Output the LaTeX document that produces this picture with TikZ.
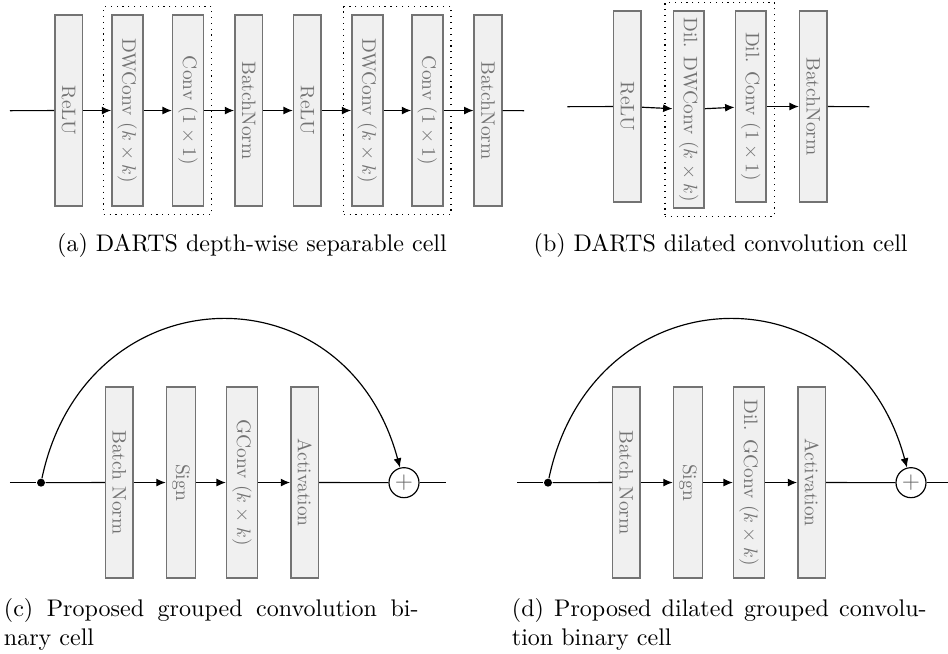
\documentclass[tikz,border=0pt]{standalone}
\usepackage{graphicx}
\usetikzlibrary{arrows.meta,fit}

\newcommand{\opname}[1]{\scalebox{.83}{#1}}

\tikzset{
  opbox/.style={rectangle, draw=black!55, fill=black!6, text=black!55,
    line width=.7pt, rotate=-90, anchor=west, minimum width=81.7pt,
    minimum height=11.7pt, inner xsep=2.7pt, inner ysep=2.4pt,
    font=\fontsize{10}{12}\selectfont},
  sepgroup/.style={draw, dotted, inner sep=3.2pt},
  dot/.style={circle, fill, inner sep=0pt, minimum size=.12cm},
  sum/.style={circle, draw, inner sep=0pt, minimum size=.45cm, text=black!60},
  subcap/.style={inner sep=0pt, font=\fontsize{10.26}{12}\selectfont},
}

\begin{document}
\begin{tikzpicture}[>={Latex[length=4pt,width=3.4pt]}, line width=.5pt]

        \useasboundingbox (0,0) rectangle (14.22,-9.81);

        % (a) depth-wise separable cell
        \begin{scope}[every node/.style={opbox}]
          \node (a1) at (1.03,-0.21) {\opname{ReLU}};
          \node (a2) at (1.91,-0.21) {\opname{DWConv ($k\times k$)}};
          \node (a3) at (2.82,-0.21) {\opname{Conv ($1\times 1$)}};
          \node (a4) at (3.73,-0.21) {\opname{BatchNorm}};
          \node (a5) at (4.61,-0.21) {\opname{ReLU}};
          \node (a6) at (5.51,-0.21) {\opname{DWConv ($k\times k$)}};
          \node (a7) at (6.41,-0.21) {\opname{Conv ($1\times 1$)}};
          \node (a8) at (7.32,-0.21) {\opname{BatchNorm}};
        \end{scope}
        \coordinate (a0) at (0.15,-1.66);
        \coordinate (a9) at (7.86,-1.66);
        \node[sepgroup, fit=(a2)(a3)] (ga1) {};
        \node[sepgroup, fit=(a6)(a7)] (ga2) {};

        % (b) dilated convolution cell
        \begin{scope}[every node/.style={opbox}]
          \node (b1) at (9.41,-0.15)  {\opname{ReLU}};
          \node (b2) at (10.33,-0.15) {\opname{Dil. DWConv ($k\times k$)}};
          \node (b3) at (11.26,-0.15) {\opname{Dil. Conv ($1\times 1$)}};
          \node (b4) at (12.20,-0.15) {\opname{BatchNorm}};
        \end{scope}
        \coordinate (b0) at (8.51,-1.60);
        \coordinate (b5) at (13.04,-1.60);
        \node[sepgroup, fit=(b2)(b3)] (gb) {};

        % (c) grouped convolution binary cell
        \begin{scope}[every node/.style={opbox}]
          \node (c2) at (1.79,-5.79)  {\opname{Batch Norm}};
          \node (c3) at (2.715,-5.79) {\opname{Sign}};
          \node (c4) at (3.63,-5.79)  {\opname{GConv ($k\times k$)}};
          \node (c5) at (4.57,-5.79)  {\opname{Activation}};
        \end{scope}
        \coordinate (c0) at (0.15,-7.24);
        \node[dot] (c1) at (0.615,-7.24) {};
        \node[sum] (c6) at (6.06,-7.24) {$+$};
        \coordinate (c7) at (6.69,-7.24);

        % (d) dilated grouped convolution binary cell
        \begin{scope}[every node/.style={opbox}]
          \node (d2) at (9.395,-5.79) {\opname{Batch Norm}};
          \node (d3) at (10.32,-5.79) {\opname{Sign}};
          \node (d4) at (11.235,-5.79) {\opname{Dil. GConv ($k\times k$)}};
          \node (d5) at (12.175,-5.79) {\opname{Activation}};
        \end{scope}
        \coordinate (d0) at (7.755,-7.24);
        \node[dot] (d1) at (8.22,-7.24) {};
        \node[sum] (d6) at (13.665,-7.24) {$+$};
        \coordinate (d7) at (14.22,-7.24);

        \begin{scope}[every edge/.style={draw}]
          \path (a0) edge (a1);
          \path (a1) edge[->] (a2);
          \path (a2) edge[->] (a3);
          \path (a3) edge[->] (a4);
          \path (a4) edge[->] (a5);
          \path (a5) edge[->] (a6);
          \path (a6) edge[->] (a7);
          \path (a7) edge[->] (a8);
          \path (a8) edge (a9);

          \path (b0) edge (b1);
          \path (b1) edge[->] (b2);
          \path (b2) edge[->] (b3);
          \path (b3) edge[->] (b4);
          \path (b4) edge (b5);

          \path (c0) edge (c1);
          \path (c1) edge (c2);
          \path (c2) edge[->] (c3);
          \path (c3) edge[->] (c4);
          \path (c4) edge[->] (c5);
          \path (c5) edge (c6);
          \path (c6) edge (c7);
          \path (c1) edge[->, out=78, in=105, looseness=1.5] (c6);

          \path (d0) edge (d1);
          \path (d1) edge (d2);
          \path (d2) edge[->] (d3);
          \path (d3) edge[->] (d4);
          \path (d4) edge[->] (d5);
          \path (d5) edge (d6);
          \path (d6) edge (d7);
          \path (d1) edge[->, out=78, in=105, looseness=1.5] (d6);
        \end{scope}

        % captions
        \begin{scope}[every node/.style={subcap}]
          \node[anchor=base] (capa) at (3.78,-3.765) {(a) DARTS depth-wise separable cell};
          \node[anchor=base] (capb) at (10.81,-3.765) {(b) DARTS dilated convolution cell};
          \node[anchor=base west, align=left] (capc) at (0.05,-9.675)
            {\makebox[177pt][s]{(c) Proposed grouped convolution bi-}\\nary cell};
          \node[anchor=base west, align=left] (capd) at (7.67,-9.675)
            {\makebox[177pt][s]{(d) Proposed dilated grouped convolu-}\\tion binary cell};
        \end{scope}

      \end{tikzpicture}
\end{document}
